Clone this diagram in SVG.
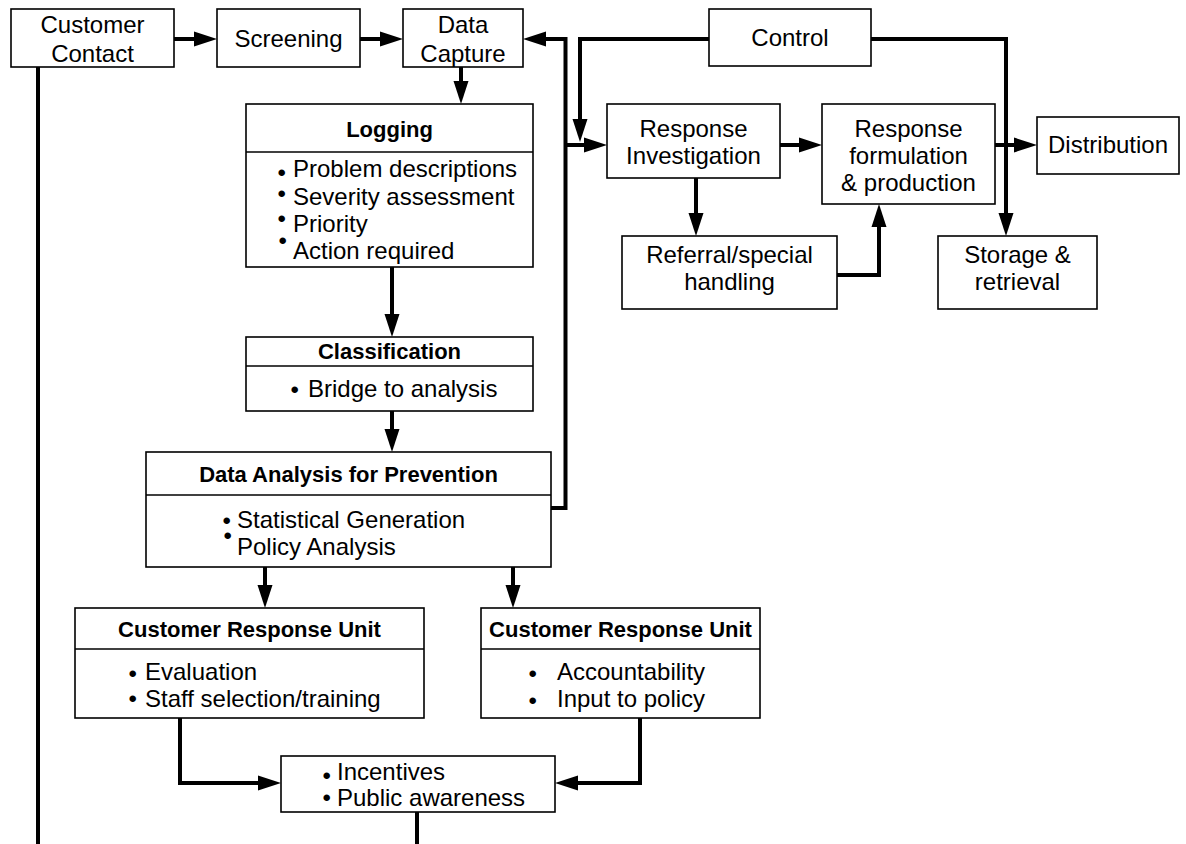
<svg xmlns="http://www.w3.org/2000/svg" width="1186" height="844" viewBox="0 0 1186 844">
<style>
.box{fill:#fff;stroke:#000;stroke-width:1.6}
.div{stroke:#000;stroke-width:1.6}
.conn{fill:none;stroke:#000;stroke-width:4;stroke-linejoin:miter;marker-end:url(#ah)}
.plain{fill:none;stroke:#000;stroke-width:4;stroke-linejoin:miter}
text{font-family:"Liberation Sans",Arial,sans-serif;font-size:24px;fill:#000}
.c{text-anchor:middle}
.b{font-weight:bold;font-size:22px}
</style>
<defs>
<marker id="ah" markerUnits="userSpaceOnUse" markerWidth="23" markerHeight="15" refX="13" refY="7.5" orient="auto" overflow="visible">
<path d="M0,0 L23,7.5 L0,15 z" fill="#000"/>
</marker>
</defs>
<rect width="1186" height="844" fill="#fff"/>

<g id="connectors">
<path class="plain" d="M38,67 V844"/>
<path class="conn" d="M174,39 H207"/>
<path class="conn" d="M360,39 H393"/>
<path class="conn" d="M551,508 H565.5 V39 H533"/>
<path class="conn" d="M709,39 H580 V132"/>
<path class="conn" d="M565.5,145 H597"/>
<path class="conn" d="M871,39 H1006 V226"/>
<path class="conn" d="M780,145 H812"/>
<path class="conn" d="M995,145 H1027"/>
<path class="conn" d="M696,178 V226"/>
<path class="conn" d="M837,275 H879 V214"/>
<path class="conn" d="M461,67 V94"/>
<path class="conn" d="M392,267 V327"/>
<path class="conn" d="M392,411 V442"/>
<path class="conn" d="M265,567 V598"/>
<path class="conn" d="M513,567 V598"/>
<path class="conn" d="M180,718 V783 H271"/>
<path class="conn" d="M640,718 V783 H565"/>
<path class="plain" d="M417,812 V844"/>
</g>

<g id="customer-contact">
<rect class="box" x="11" y="9" width="163" height="58"/>
<text class="c" x="92.5" y="33">Customer</text>
<text class="c" x="92.5" y="62">Contact</text>
</g>
<g id="screening">
<rect class="box" x="217" y="9" width="143" height="58"/>
<text class="c" x="288.5" y="47">Screening</text>
</g>
<g id="data-capture">
<rect class="box" x="403" y="9" width="120" height="58"/>
<text class="c" x="463" y="33">Data</text>
<text class="c" x="463" y="62">Capture</text>
</g>
<g id="control">
<rect class="box" x="709" y="9" width="162" height="57"/>
<text class="c" x="790" y="46">Control</text>
</g>
<g id="response-investigation">
<rect class="box" x="607" y="104" width="173" height="74"/>
<text class="c" x="693.5" y="137">Response</text>
<text class="c" x="693.5" y="164">Investigation</text>
</g>
<g id="response-formulation">
<rect class="box" x="822" y="104" width="173" height="100"/>
<text class="c" x="908.5" y="137">Response</text>
<text class="c" x="908.5" y="164">formulation</text>
<text class="c" x="908.5" y="191">&amp; production</text>
</g>
<g id="distribution">
<rect class="box" x="1037" y="117" width="142" height="57"/>
<text class="c" x="1108" y="153">Distribution</text>
</g>
<g id="referral">
<rect class="box" x="622" y="236" width="215" height="73"/>
<text class="c" x="729.5" y="263">Referral/special</text>
<text class="c" x="729.5" y="290">handling</text>
</g>
<g id="storage">
<rect class="box" x="938" y="236" width="159" height="73"/>
<text class="c" x="1017.5" y="263">Storage &amp;</text>
<text class="c" x="1017.5" y="290">retrieval</text>
</g>

<g id="logging">
<rect class="box" x="246" y="104" width="287" height="163"/>
<line class="div" x1="246" y1="152" x2="533" y2="152"/>
<text class="c b" x="389.5" y="137">Logging</text>
<text x="277.5" y="181">•<tspan x="293" y="177">Problem descriptions</tspan></text>
<text x="277.5" y="202">•<tspan x="293" y="205">Severity assessment</tspan></text>
<text x="277.5" y="227">•<tspan x="293" y="232">Priority</tspan></text>
<text x="278.5" y="249">•<tspan x="293" y="259">Action required</tspan></text>
</g>

<g id="classification">
<rect class="box" x="246" y="337" width="287" height="74"/>
<line class="div" x1="246" y1="366" x2="533" y2="366"/>
<text class="c b" x="389.5" y="359">Classification</text>
<text x="290.5" y="398">•<tspan x="308" y="397">Bridge to analysis</tspan></text>
</g>

<g id="data-analysis">
<rect class="box" x="146" y="452" width="405" height="115"/>
<line class="div" x1="146" y1="495" x2="551" y2="495"/>
<text class="c b" x="348.5" y="482">Data Analysis for Prevention</text>
<text x="222.5" y="529">•<tspan x="237" y="528">Statistical Generation</tspan></text>
<text x="223.5" y="544">•<tspan x="237" y="555">Policy Analysis</tspan></text>
</g>

<g id="cru-left">
<rect class="box" x="75" y="608" width="349" height="110"/>
<line class="div" x1="75" y1="649" x2="424" y2="649"/>
<text class="c b" x="249.5" y="637">Customer Response Unit</text>
<text x="128.5" y="682">•<tspan x="145" y="680">Evaluation</tspan></text>
<text x="128.5" y="707">•<tspan x="145" y="707">Staff selection/training</tspan></text>
</g>

<g id="cru-right">
<rect class="box" x="481" y="608" width="279" height="110"/>
<line class="div" x1="481" y1="649" x2="760" y2="649"/>
<text class="c b" x="620.5" y="637">Customer Response Unit</text>
<text x="528.5" y="682">•<tspan x="557" y="680">Accountability</tspan></text>
<text x="528.5" y="709">•<tspan x="557" y="707">Input to policy</tspan></text>
</g>

<g id="incentives">
<rect class="box" x="281" y="756" width="274" height="56"/>
<text x="322.5" y="784">•<tspan x="337" y="780">Incentives</tspan></text>
<text x="322.5" y="806">•<tspan x="337" y="806">Public awareness</tspan></text>
</g>
</svg>
